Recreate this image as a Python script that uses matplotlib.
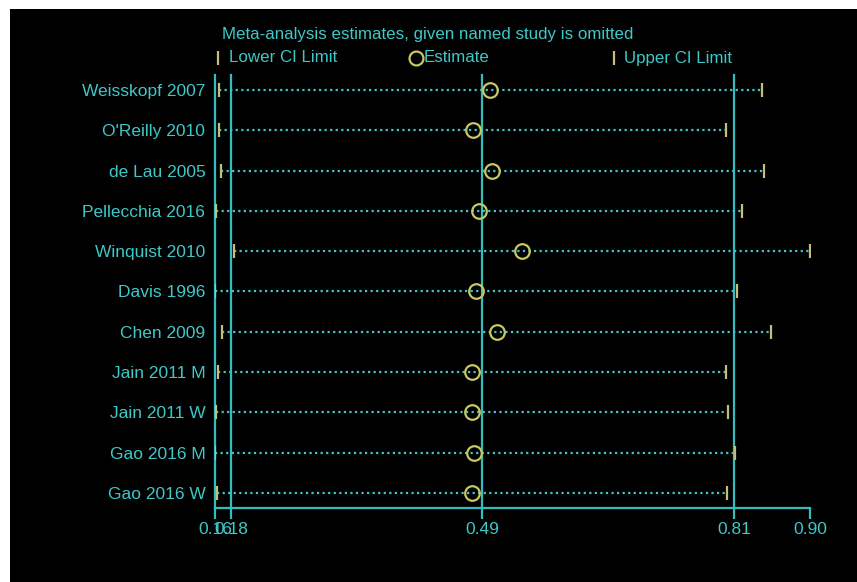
import matplotlib
matplotlib.use("Agg")
import matplotlib.pyplot as plt
from matplotlib.lines import Line2D
from matplotlib.patches import Rectangle

# Influence analysis: pooled estimate with each study left out in turn
studies = ["Weisskopf 2007", "O'Reilly 2010", "de Lau 2005", "Pellecchia 2016",
           "Winquist 2010", "Davis 1996", "Chen 2009", "Jain 2011 M",
           "Jain 2011 W", "Gao 2016 M", "Gao 2016 W"]
lower = [0.1662, 0.1662, 0.1687, 0.1621, 0.1848, 0.1612,
         0.1699, 0.1646, 0.1621, 0.1612, 0.1633]
estimate = [0.5024, 0.4810, 0.5049, 0.4884, 0.5421, 0.4847,
            0.5107, 0.4805, 0.4797, 0.4826, 0.4797]
upper = [0.8396, 0.7953, 0.8428, 0.8151, 0.8995, 0.8086,
         0.8511, 0.7949, 0.7981, 0.8061, 0.7961]

# overall pooled result (all studies)
overall_low, overall_est, overall_high = 0.1811, 0.4925, 0.8052

legend_labels = ["Lower CI Limit", "Estimate", "Upper CI Limit"]

CYAN = "#3ec8c8"
LINE = "#35bcbc"
YELLOW = "#c8c860"
KHAKI = "#c8bc7a"

W, H = 857, 582

plt.rcParams["font.family"] = ["Liberation Sans", "DejaVu Sans"]

fig = plt.figure(figsize=(W / 100, H / 100), dpi=100, facecolor="black")
ax = fig.add_axes([215 / W, 1 - 508 / H, 595 / W, 433 / H])
ax.set_facecolor("black")

rows = list(range(1, len(studies) + 1))

# dotted span from lower to upper limit
for y, lo, hi in zip(rows, lower, upper):
    ax.plot([lo, hi], [y, y], color=CYAN, lw=1.6, ls=(0, (1, 1.5)), zorder=2)

ax.plot(lower, rows, ls="none", marker="|", ms=10, mew=1.6, color=KHAKI, zorder=3)
ax.plot(upper, rows, ls="none", marker="|", ms=10, mew=1.6, color=KHAKI, zorder=3)
ax.plot(estimate, rows, ls="none", marker="o", ms=10.5, mew=1.6,
        mfc="none", mec=YELLOW, zorder=4)

xmin, xmax = min(lower), max(upper)
for xv in [xmin, overall_low, overall_est, overall_high]:
    ax.axvline(xv, color=LINE, lw=1.6, zorder=1, clip_on=False)

ax.set_xlim(xmin, xmax)
ax.set_ylim(len(studies) + 0.37, 0.63)

xticks = [xmin, overall_low, overall_est, overall_high, xmax]
ax.set_xticks(xticks)
ax.set_xticklabels([f"{v:.2f}" for v in xticks])
ax.set_yticks(rows)
ax.set_yticklabels(studies)

ax.tick_params(axis="x", colors=LINE, labelcolor=CYAN, length=8, width=1.6,
               labelsize=12.5, pad=2)
ax.tick_params(axis="y", length=0, labelcolor=CYAN, labelsize=12.5, pad=7)

for side in ["top", "right", "left"]:
    ax.spines[side].set_visible(False)
ax.spines["bottom"].set_color(LINE)
ax.spines["bottom"].set_linewidth(1.6)

fig.text(222 / W, 1 - 35 / H, "Meta-analysis estimates, given named study is omitted",
         color=CYAN, fontsize=12.2, ha="left", va="center")

# legend row: key symbol followed by its label, three columns
key_styles = [
    dict(marker="|", ms=10, mew=1.6, color=KHAKI),
    dict(marker="o", ms=10, mew=1.6, mfc="none", mec=YELLOW),
    dict(marker="|", ms=10, mew=1.6, color=KHAKI),
]
key_x = [218, 416, 614]
text_x = [229, 424, 624]
leg_y = 1 - 58 / H
for kx, tx, label, style in zip(key_x, text_x, legend_labels, key_styles):
    fig.add_artist(Line2D([kx / W], [leg_y], ls="none", transform=fig.transFigure, **style))
    fig.text(tx / W, leg_y, label, color=CYAN, fontsize=12.2, ha="left", va="center")

# white strip along the top and left edges
fig.patches.append(Rectangle((0, 1 - 9 / H), 1, 9 / H, transform=fig.transFigure,
                             facecolor="white", edgecolor="none"))
fig.patches.append(Rectangle((0, 0), 10 / W, 1, transform=fig.transFigure,
                             facecolor="white", edgecolor="none"))

fig.savefig("out.png", dpi=100, facecolor="black")
